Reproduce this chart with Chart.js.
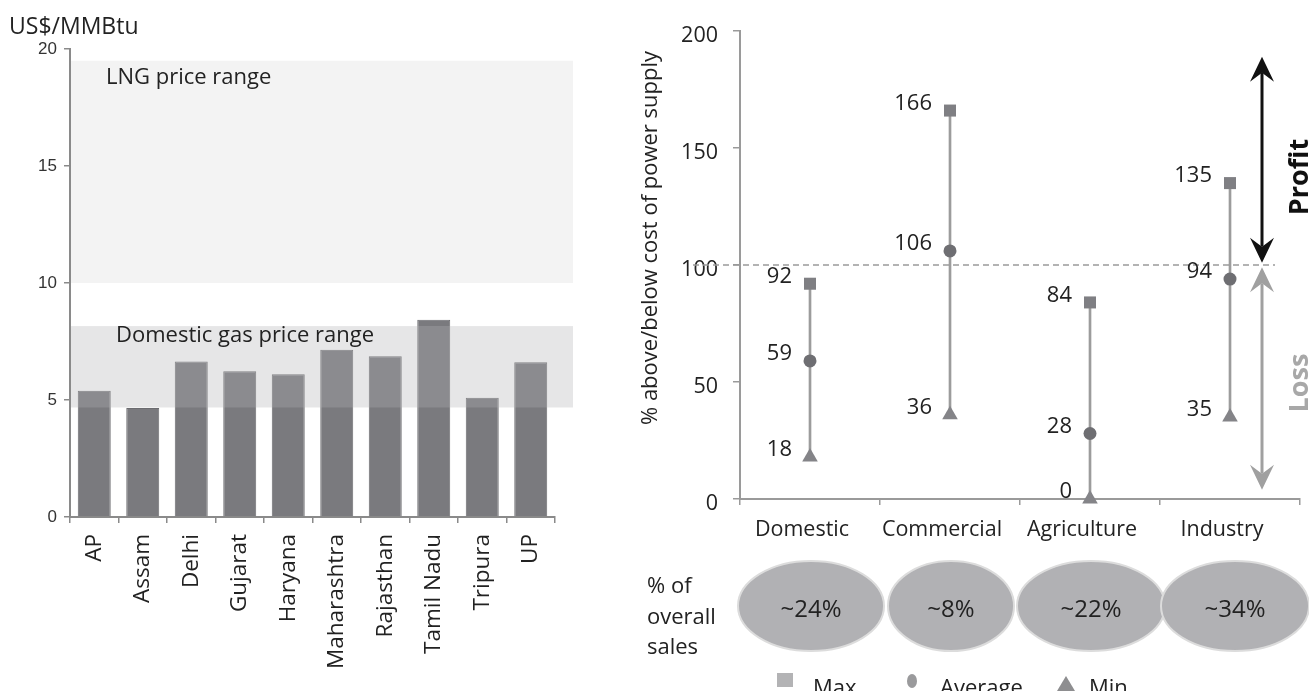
<!DOCTYPE html>
<html>
<head>
<meta charset="utf-8">
<script src="https://cdn.jsdelivr.net/npm/chart.js@4.4.1/dist/chart.umd.min.js"></script>
<style>
  body { margin: 0; background: #fff; width: 1309px; height: 691px; overflow: hidden; position: relative; }
  #gasChart { position: absolute; left: 0; top: 0; }
  #tariffChart { position: absolute; left: 600px; top: 0; }
</style>
</head>
<body>
<canvas id="gasChart" width="600" height="691"></canvas>
<canvas id="tariffChart" width="709" height="691"></canvas>
<script>
// Left chart: gas price by state (US$/MMBtu)
const states = ["AP", "Assam", "Delhi", "Gujarat", "Haryana", "Maharashtra", "Rajasthan", "Tamil Nadu", "Tripura", "UP"];
const gasPrice = [5.39, 4.66, 6.65, 6.23, 6.1, 7.15, 6.87, 8.43, 5.1, 6.61];
const priceTicks = [0, 5, 10, 15, 20];
const lngRange = [10, 19.5];
const domesticRange = [4.68, 8.16];

// Right chart: tariff vs cost of supply (%)
const sectors = ["Domestic", "Commercial", "Agriculture", "Industry"];
const maxTariff = [92, 166, 84, 135];
const avgTariff = [59, 106, 28, 94];
const minTariff = [18, 36, 0, 35];
const tariffTicks = [0, 50, 100, 150, 200];
const costLevel = 100;
const salesShare = ["~24%", "~8%", "~22%", "~34%"];

// annotation spans for the profit / loss arrows (in % units)
const profitSpan = [101, 189];
const lossSpan = [4, 99];
const ellipseRx = [73, 63, 74, 74];

Chart.defaults.font.family = "'Open Sans', sans-serif";
Chart.defaults.color = "#222";

// bands + labels on the gas chart
const bandPlugin = {
  id: "bands",
  beforeDatasetsDraw(chart) {
    const { ctx, chartArea, scales: { y } } = chart;
    ctx.save();
    ctx.fillStyle = "#f3f3f3";
    const top = y.getPixelForValue(lngRange[1]);
    const bot = y.getPixelForValue(lngRange[0]);
    ctx.fillRect(chartArea.left + 1, top, chartArea.right + 17 - chartArea.left, bot - top);
    ctx.restore();
  },
  afterDatasetsDraw(chart) {
    const { ctx, chartArea, scales: { y } } = chart;
    ctx.save();
    // domestic band is a see-through overlay, so bars look lighter inside it
    ctx.fillStyle = "rgba(176,177,180,0.32)";
    const top = y.getPixelForValue(domesticRange[1]);
    const bot = y.getPixelForValue(domesticRange[0]);
    ctx.fillRect(chartArea.left + 1, top, chartArea.right + 17 - chartArea.left, bot - top);

    ctx.fillStyle = "#222";
    ctx.font = "22px 'Open Sans'";
    ctx.textBaseline = "middle";
    ctx.textAlign = "left";
    ctx.fillText("LNG price range", chartArea.left + 36, y.getPixelForValue(lngRange[1]) + 17);
    ctx.fillText("Domestic gas price range", chartArea.left + 46, top + 10);

    ctx.font = "23px 'Open Sans'";
    ctx.fillText("US$/MMBtu", 9, 27);
    ctx.restore();
  }
};

new Chart(document.getElementById("gasChart"), {
  type: "bar",
  data: {
    labels: states,
    datasets: [{
      data: gasPrice,
      backgroundColor: "#7a7a7e",
      borderColor: "#6c6c70",
      borderWidth: 1,
      barPercentage: 0.68,
      categoryPercentage: 1
    }]
  },
  options: {
    responsive: false,
    animation: false,
    layout: { padding: { top: 49, right: 45, left: 0, bottom: 0 } },
    plugins: { legend: { display: false }, tooltip: { enabled: false } },
    scales: {
      x: {
        grid: { drawOnChartArea: false, tickLength: 6, color: "#8a8a8a", lineWidth: 1.5 },
        border: { color: "#8a8a8a", width: 2 },
        ticks: { minRotation: 90, maxRotation: 90, padding: 11, color: "#222", font: { size: 22.5 } },
        afterFit: s => { s.height = 174; }
      },
      y: {
        min: priceTicks[0],
        max: priceTicks[priceTicks.length - 1],
        afterBuildTicks: s => { s.ticks = priceTicks.map(v => ({ value: v })); },
        grid: { drawOnChartArea: false, tickLength: 6, color: "#8a8a8a", lineWidth: 1.5 },
        border: { color: "#8a8a8a", width: 2 },
        ticks: { padding: 7, color: "#333", font: { family: "'Liberation Sans', Arial", size: 17 } },
        afterFit: s => { s.width = 70; }
      }
    }
  },
  plugins: [bandPlugin]
});

function arrowHead(ctx, x, tipY, dir, color) {
  // dir -1 = points up, 1 = points down
  ctx.fillStyle = color;
  ctx.beginPath();
  ctx.moveTo(x, tipY);
  ctx.lineTo(x - 12, tipY - dir * 25);
  ctx.lineTo(x, tipY - dir * 16);
  ctx.lineTo(x + 12, tipY - dir * 25);
  ctx.closePath();
  ctx.fill();
}

function doubleArrow(ctx, x, yTop, yBot, color) {
  ctx.strokeStyle = color;
  ctx.lineWidth = 3;
  ctx.beginPath();
  ctx.moveTo(x, yTop + 16);
  ctx.lineTo(x, yBot - 16);
  ctx.stroke();
  arrowHead(ctx, x, yTop, -1, color);
  arrowHead(ctx, x, yBot, 1, color);
}

const tariffPlugin = {
  id: "tariffExtras",
  beforeDatasetsDraw(chart) {
    const { ctx, chartArea, scales: { y } } = chart;
    const yc = y.getPixelForValue(costLevel);
    ctx.save();
    ctx.strokeStyle = "#9a9a9a";
    ctx.lineWidth = 1.5;
    ctx.setLineDash([6, 4]);
    ctx.beginPath();
    ctx.moveTo(chartArea.left - 47, yc);
    ctx.lineTo(chartArea.right - 25, yc);
    ctx.stroke();
    ctx.restore();
  },
  afterDatasetsDraw(chart) {
    const { ctx, chartArea, scales: { x, y } } = chart;
    ctx.save();

    // value labels left of each marker
    ctx.font = "22px 'Open Sans'";
    ctx.fillStyle = "#222";
    ctx.textAlign = "right";
    ctx.textBaseline = "middle";
    [1, 2, 3].forEach(d => {
      const meta = chart.getDatasetMeta(d);
      const vals = chart.data.datasets[d].data;
      meta.data.forEach((pt, i) => {
        ctx.fillText(String(vals[i]), pt.x - 18, pt.y - 7);
      });
    });

    // profit / loss arrows
    const ax = chartArea.right - 38;
    doubleArrow(ctx, ax, y.getPixelForValue(profitSpan[1]), y.getPixelForValue(profitSpan[0]), "#111");
    doubleArrow(ctx, ax, y.getPixelForValue(lossSpan[1]), y.getPixelForValue(lossSpan[0]), "#a0a0a0");

    ctx.font = "bold 27px 'Open Sans'";
    ctx.textAlign = "center";
    ctx.save();
    ctx.translate(ax + 38, 177);
    ctx.rotate(-Math.PI / 2);
    ctx.fillStyle = "#111";
    ctx.fillText("Profit", 0, 0);
    ctx.restore();
    ctx.save();
    ctx.translate(ax + 38, 383);
    ctx.rotate(-Math.PI / 2);
    ctx.fillStyle = "#a8a8a8";
    ctx.fillText("Loss", 0, 0);
    ctx.restore();

    // y axis title
    ctx.save();
    ctx.translate(51, 238);
    ctx.rotate(-Math.PI / 2);
    ctx.font = "22px 'Open Sans'";
    ctx.fillStyle = "#222";
    ctx.fillText("% above/below cost of power supply", 0, 0);
    ctx.restore();

    // share of overall sales ellipses
    sectors.forEach((s, i) => {
      const cx = x.getPixelForValue(i) + (i === 3 ? 5 : 1);
      ctx.beginPath();
      ctx.ellipse(cx, 606, ellipseRx[i], 45, 0, 0, Math.PI * 2);
      ctx.fillStyle = "#b1b1b4";
      ctx.fill();
      ctx.lineWidth = 2;
      ctx.strokeStyle = "#dcdcdc";
      ctx.stroke();
      ctx.fillStyle = "#222";
      ctx.font = "24px 'Open Sans'";
      ctx.textAlign = "center";
      ctx.fillText(salesShare[i], cx, 610);
    });

    ctx.font = "22px 'Open Sans'";
    ctx.textAlign = "left";
    ctx.fillStyle = "#222";
    ctx.fillText("% of", 47, 587);
    ctx.fillText("overall", 47, 618);
    ctx.fillText("sales", 47, 648);

    // legend
    ctx.textBaseline = "alphabetic";
    ctx.fillStyle = "#b3b3b5";
    ctx.fillRect(177, 673, 16, 14);
    ctx.fillStyle = "#9a9a9c";
    ctx.beginPath();
    ctx.ellipse(312, 681, 5, 7, 0, 0, Math.PI * 2);
    ctx.fill();
    ctx.fillStyle = "#8e8e90";
    ctx.beginPath();
    ctx.moveTo(466, 676);
    ctx.lineTo(475, 691);
    ctx.lineTo(457, 691);
    ctx.closePath();
    ctx.fill();
    ctx.fillStyle = "#222";
    ctx.fillText("Max", 213, 695);
    ctx.fillText("Average", 340, 695);
    ctx.fillText("Min", 489, 695);

    ctx.restore();
  }
};

new Chart(document.getElementById("tariffChart"), {
  type: "bar",
  data: {
    labels: sectors,
    datasets: [
      {
        type: "bar",
        data: sectors.map((s, i) => [minTariff[i], maxTariff[i]]),
        backgroundColor: "#9c9c9c",
        barThickness: 2,
        order: 4
      },
      {
        type: "line", label: "Max", data: maxTariff, showLine: false, clip: false,
        pointStyle: "rect", pointRadius: 8.5, pointBorderWidth: 0,
        pointBackgroundColor: "#7f7f83", borderColor: "#7f7f83", order: 1
      },
      {
        type: "line", label: "Average", data: avgTariff, showLine: false, clip: false,
        pointStyle: "circle", pointRadius: 6.5, pointBorderWidth: 0,
        pointBackgroundColor: "#6e6e72", borderColor: "#6e6e72", order: 2
      },
      {
        type: "line", label: "Min", data: minTariff, showLine: false, clip: false,
        pointStyle: "triangle", pointRadius: 9, pointBorderWidth: 0,
        pointBackgroundColor: "#848488", borderColor: "#848488", order: 3
      }
    ]
  },
  options: {
    responsive: false,
    animation: false,
    layout: { padding: { top: 31, right: 4, left: 0, bottom: 0 } },
    plugins: { legend: { display: false }, tooltip: { enabled: false } },
    scales: {
      x: {
        offset: true,
        grid: { offset: true, drawOnChartArea: false, tickLength: 6, color: "#9a9a9a", lineWidth: 1.5 },
        border: { color: "#9a9a9a", width: 2 },
        ticks: { padding: 12, labelOffset: -8, color: "#222", font: { size: 21.5 } },
        afterFit: s => { s.height = 192; }
      },
      y: {
        min: tariffTicks[0],
        max: tariffTicks[tariffTicks.length - 1],
        afterBuildTicks: s => { s.ticks = tariffTicks.map(v => ({ value: v })); },
        grid: { drawOnChartArea: false, tickLength: 7, color: "#9a9a9a", lineWidth: 1.5 },
        border: { color: "#9a9a9a", width: 2 },
        ticks: { padding: 15, labelOffset: 5, color: "#222", font: { size: 21.5 } },
        afterFit: s => { s.width = 140; }
      }
    }
  },
  plugins: [tariffPlugin]
});
</script>
</body>
</html>
